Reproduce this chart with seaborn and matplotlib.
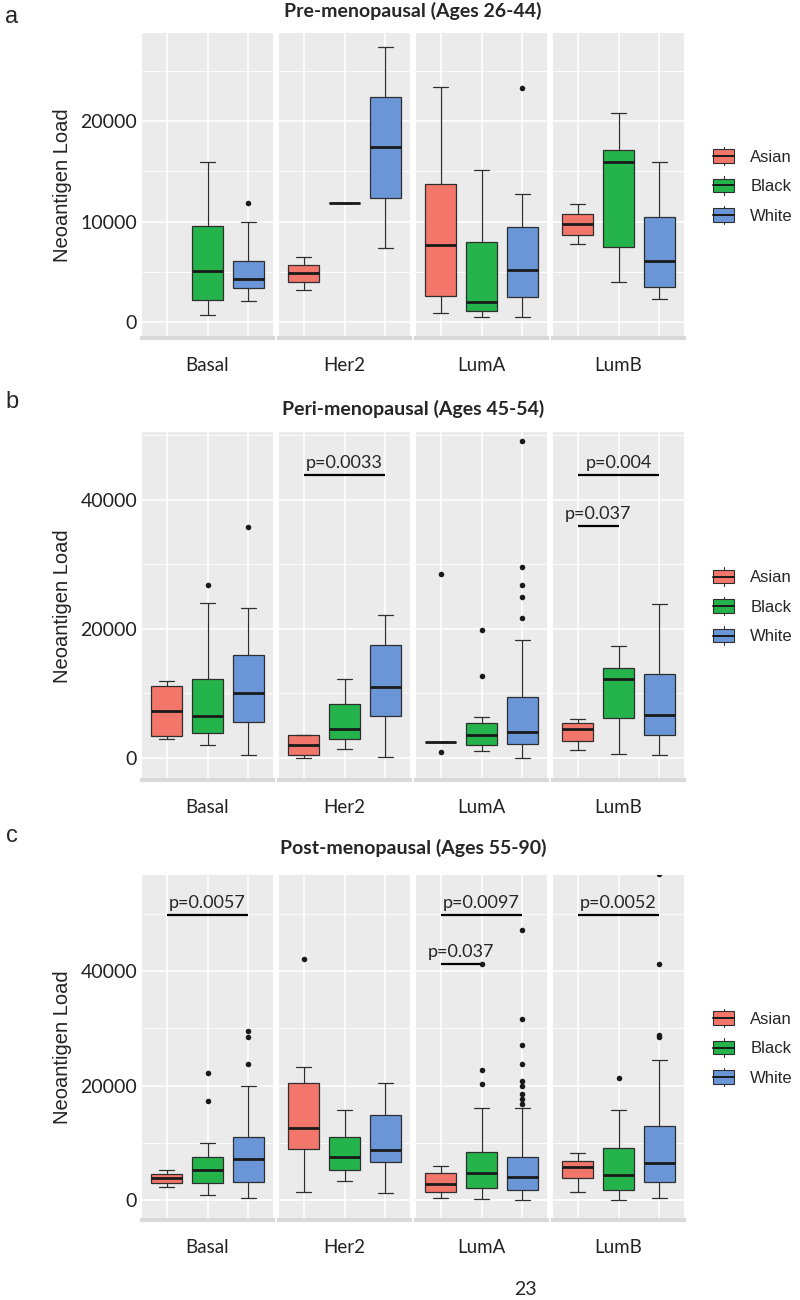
"""
Neoantigen load by PAM50 subtype and race, split by menopausal age group.
Writes out.png
"""
import matplotlib
matplotlib.use('Agg')
import matplotlib.pyplot as plt
from matplotlib.patches import Rectangle
from matplotlib.lines import Line2D
from matplotlib.legend_handler import HandlerBase
import pandas as pd
import seaborn as sns

SUBTYPES = ['Basal', 'Her2', 'LumA', 'LumB']
RACES = ['Asian', 'Black', 'White']
RACE_COLORS = ['#F3766B', '#25B34B', '#6A96D8']

# (lower whisker, Q1, median, Q3, upper whisker) per subtype, in RACES order; None = no patients
PRE_STATS = {
    'Basal': [None, (730, 2230, 5030, 9570, 15900), (2070, 3400, 4300, 6070, 9970)],
    'Her2': [(3170, 3970, 4900, 5670, 6500), (11900, 11900, 11900, 11900, 11900),
             (7400, 12330, 17400, 22400, 27400)],
    'LumA': [(900, 2630, 7670, 13700, 23400), (470, 1070, 2000, 7930, 15170),
             (470, 2530, 5130, 9500, 12800)],
    'LumB': [(7730, 8700, 9730, 10770, 11730), (3970, 7500, 15930, 17130, 20800),
             (2300, 3500, 6070, 10500, 15900)],
}
PRE_OUTLIERS = {('Basal', 'White'): [11830], ('LumA', 'White'): [23300]}
PRE_PVALS = []

PERI_STATS = {
    'Basal': [(3000, 3360, 7240, 11210, 11870), (2040, 3870, 6520, 12280, 23950),
              (410, 5600, 10040, 15900, 23290)],
    'Her2': [(0, 410, 2090, 3570, 3570), (1380, 2960, 4430, 8410, 12230),
             (100, 6520, 10960, 17580, 22170)],
    'LumA': [(2500, 2500, 2500, 2500, 2500), (1020, 2040, 3570, 5500, 6370),
             (0, 2140, 4030, 9530, 18350)],
    'LumB': [(1270, 2700, 4430, 5500, 6010), (660, 6220, 12230, 13910, 17330),
             (410, 3570, 6620, 13000, 23800)],
}
PERI_OUTLIERS = {
    ('Basal', 'Black'): [26860],
    ('Basal', 'White'): [35820],
    ('LumA', 'Asian'): [28540, 870],
    ('LumA', 'Black'): [19870, 12740],
    ('LumA', 'White'): [49180, 29560, 26750, 24970, 21660],
}
PERI_PVALS = [
    ('Her2', 'Asian', 'White', 43800, 'p=0.0033'),
    ('LumB', 'Asian', 'Black', 35900, 'p=0.037'),
    ('LumB', 'Asian', 'White', 43800, 'p=0.004'),
]

POST_STATS = {
    'Basal': [(2340, 2930, 3810, 4570, 5270), (880, 3050, 5270, 7440, 9900),
              (290, 3220, 7090, 11070, 19910)],
    'Her2': [(1460, 8960, 12650, 20440, 23250), (3340, 5270, 7500, 10950, 15810),
             (1170, 6620, 8670, 14880, 20500)],
    'LumA': [(410, 1460, 2750, 4690, 5860), (120, 2050, 4740, 8380, 15990),
             (0, 1700, 4100, 7500, 16000)],
    'LumB': [(1460, 3810, 5680, 6740, 8200), (0, 1760, 4390, 9080, 15810),
             (290, 3220, 6500, 12890, 24480)],
}
POST_OUTLIERS = {
    ('Basal', 'Black'): [22200, 17220],
    ('Basal', 'White'): [29520, 28410, 23840],
    ('Her2', 'Asian'): [42170],
    ('LumA', 'Black'): [41290, 22730, 20210],
    ('LumA', 'White'): [47150, 31630, 27060, 23840, 20790, 19910, 18450, 17570, 16800],
    ('LumB', 'Black'): [21380],
    ('LumB', 'White'): [57000, 41290, 28820, 28410],
}
POST_PVALS = [
    ('Basal', 'Asian', 'White', 49800, 'p=0.0057'),
    ('LumA', 'Asian', 'Black', 41300, 'p=0.037'),
    ('LumA', 'Asian', 'White', 49800, 'p=0.0097'),
    ('LumB', 'Asian', 'White', 49800, 'p=0.0052'),
]

W, H = 800, 1300
FACET_LEFT, FACET_W, FACET_GAP = 142, 131, 6
PANEL_BG = '#EBEBEB'
EDGE = '#2e2e2e'


class BoxKeyHandler(HandlerBase):
    """ggplot-like legend key: small box with whiskers and median."""

    def create_artists(self, legend, orig_handle, xdescent, ydescent,
                       width, height, fontsize, trans):
        fc = orig_handle.get_facecolor()
        x0, y0 = -xdescent, -ydescent
        cx, cy = x0 + width / 2, y0 + height / 2
        bh = height * 0.72
        whisk = Line2D([cx, cx], [y0, y0 + height], color=EDGE, lw=0.8, transform=trans)
        box = Rectangle((x0, cy - bh / 2), width, bh, facecolor=fc,
                        edgecolor=EDGE, lw=0.8, transform=trans)
        med = Line2D([x0, x0 + width], [cy, cy], color='#1a1a1a', lw=1.4, transform=trans)
        return [whisk, box, med]


def long_frames(stats, outliers):
    rows, pts = [], []
    for sub in SUBTYPES:
        for race, five in zip(RACES, stats[sub]):
            if five is not None:
                rows += [(sub, race, v) for v in five]
            pts += [(sub, race, v) for v in outliers.get((sub, race), [])]
    cols = ['subtype', 'race', 'load']
    return pd.DataFrame(rows, columns=cols), pd.DataFrame(pts, columns=cols)


def draw_panel(fig, top, bottom, stats, outliers, pvals, ylim, yticks,
               title, letter, title_base, letter_base):
    box_df, pt_df = long_frames(stats, outliers)
    h = bottom - top
    step = yticks[1] - yticks[0]
    minor = [t + step / 2 for t in yticks]

    for i, sub in enumerate(SUBTYPES):
        left = FACET_LEFT + i * (FACET_W + FACET_GAP)
        ax = fig.add_axes([left / W, 1 - bottom / H, FACET_W / W, h / H])
        ax.set_facecolor(PANEL_BG)
        ax.set_axisbelow(True)

        sns.boxplot(data=box_df[box_df.subtype == sub], x='race', y='load', hue='race',
                    order=RACES, hue_order=RACES, palette=RACE_COLORS, saturation=1,
                    width=0.75, whis=(0, 100), showfliers=False, linewidth=0.9,
                    linecolor=EDGE, medianprops=dict(color='#1a1a1a', linewidth=2.0),
                    legend=False, ax=ax)
        pts = pt_df[pt_df.subtype == sub]
        if len(pts):
            sns.stripplot(data=pts, x='race', y='load', order=RACES, color='#1a1a1a',
                          size=4, jitter=False, ax=ax)

        for psub, r1, r2, yv, label in pvals:
            if psub != sub:
                continue
            x1, x2 = RACES.index(r1), RACES.index(r2)
            ax.plot([x1, x2], [yv, yv], color='black', lw=1.6, solid_capstyle='butt')
            ax.annotate(label, xy=((x1 + x2) / 2, yv), xytext=(0, 3),
                        textcoords='offset points', ha='center', va='bottom', fontsize=13)

        ax.set_xlim(-0.6, 2.6)
        ax.set_ylim(*ylim)
        ax.set_xticks([0, 1, 2])
        ax.set_yticks(yticks)
        ax.set_yticks([m for m in minor if ylim[0] < m < ylim[1]], minor=True)
        ax.grid(which='major', color='white', lw=1.2)
        ax.grid(which='minor', axis='y', color='white', lw=0.6)
        ax.tick_params(axis='x', length=0, labelbottom=False)
        ax.tick_params(axis='y', which='both', length=0, pad=3.5,
                       labelleft=(i == 0), labelsize=14, labelcolor='#222222')
        ax.set_xlabel('')
        ax.set_ylabel('')
        for s in ['top', 'left', 'right']:
            ax.spines[s].set_visible(False)
        ax.spines['bottom'].set_color('#D9D9D9')
        ax.spines['bottom'].set_linewidth(3)

        ax.text(0.5, -33 / h, sub, transform=ax.transAxes, ha='center',
                va='baseline', fontsize=13.5, color='#222222')

    mid = (top + bottom) / 2
    fig.text(63 / W, 1 - mid / H, 'Neoantigen Load', rotation=90, ha='center',
             va='center', fontsize=14.5, family='Liberation Sans', color='#222222')
    fig.text(413 / W, 1 - title_base / H, title, ha='center', va='baseline',
             fontsize=14, fontweight='bold')
    fig.text(12 / W, 1 - letter_base / H, letter, ha='center', va='baseline',
             fontsize=17, family='Liberation Sans')

    handles = [Rectangle((0, 0), 1, 1, facecolor=c) for c in RACE_COLORS]
    fig.legend(handles, RACES, handler_map={Rectangle: BoxKeyHandler()},
               loc='center left', bbox_to_anchor=(706 / W, 1 - mid / H),
               borderaxespad=0, frameon=False,
               prop={'family': 'Liberation Sans', 'size': 12},
               handlelength=1.3, handleheight=1.3, labelspacing=0.68, handletextpad=0.95)


def main():
    sns.set_theme(style='white')
    plt.rcParams['font.family'] = ['Lato', 'DejaVu Sans']

    fig = plt.figure(figsize=(W / 100, H / 100), dpi=100)
    fig.patch.set_facecolor('white')

    draw_panel(fig, 33, 338, PRE_STATS, PRE_OUTLIERS, PRE_PVALS,
               (-1600, 28800), [0, 10000, 20000],
               'Pre-menopausal (Ages 26-44)', 'a', 17, 23)
    draw_panel(fig, 432, 780, PERI_STATS, PERI_OUTLIERS, PERI_PVALS,
               (-3400, 50500), [0, 20000, 40000],
               'Peri-menopausal (Ages 45-54)', 'b', 415, 408)
    draw_panel(fig, 875, 1220, POST_STATS, POST_OUTLIERS, POST_PVALS,
               (-3500, 56800), [0, 20000, 40000],
               'Post-menopausal (Ages 55-90)', 'c', 854, 842)

    fig.text(525 / W, 1 - 1295 / H, '23', ha='center', va='baseline', fontsize=14)

    plt.savefig('out.png', dpi=100)
    plt.close()


if __name__ == '__main__':
    main()
